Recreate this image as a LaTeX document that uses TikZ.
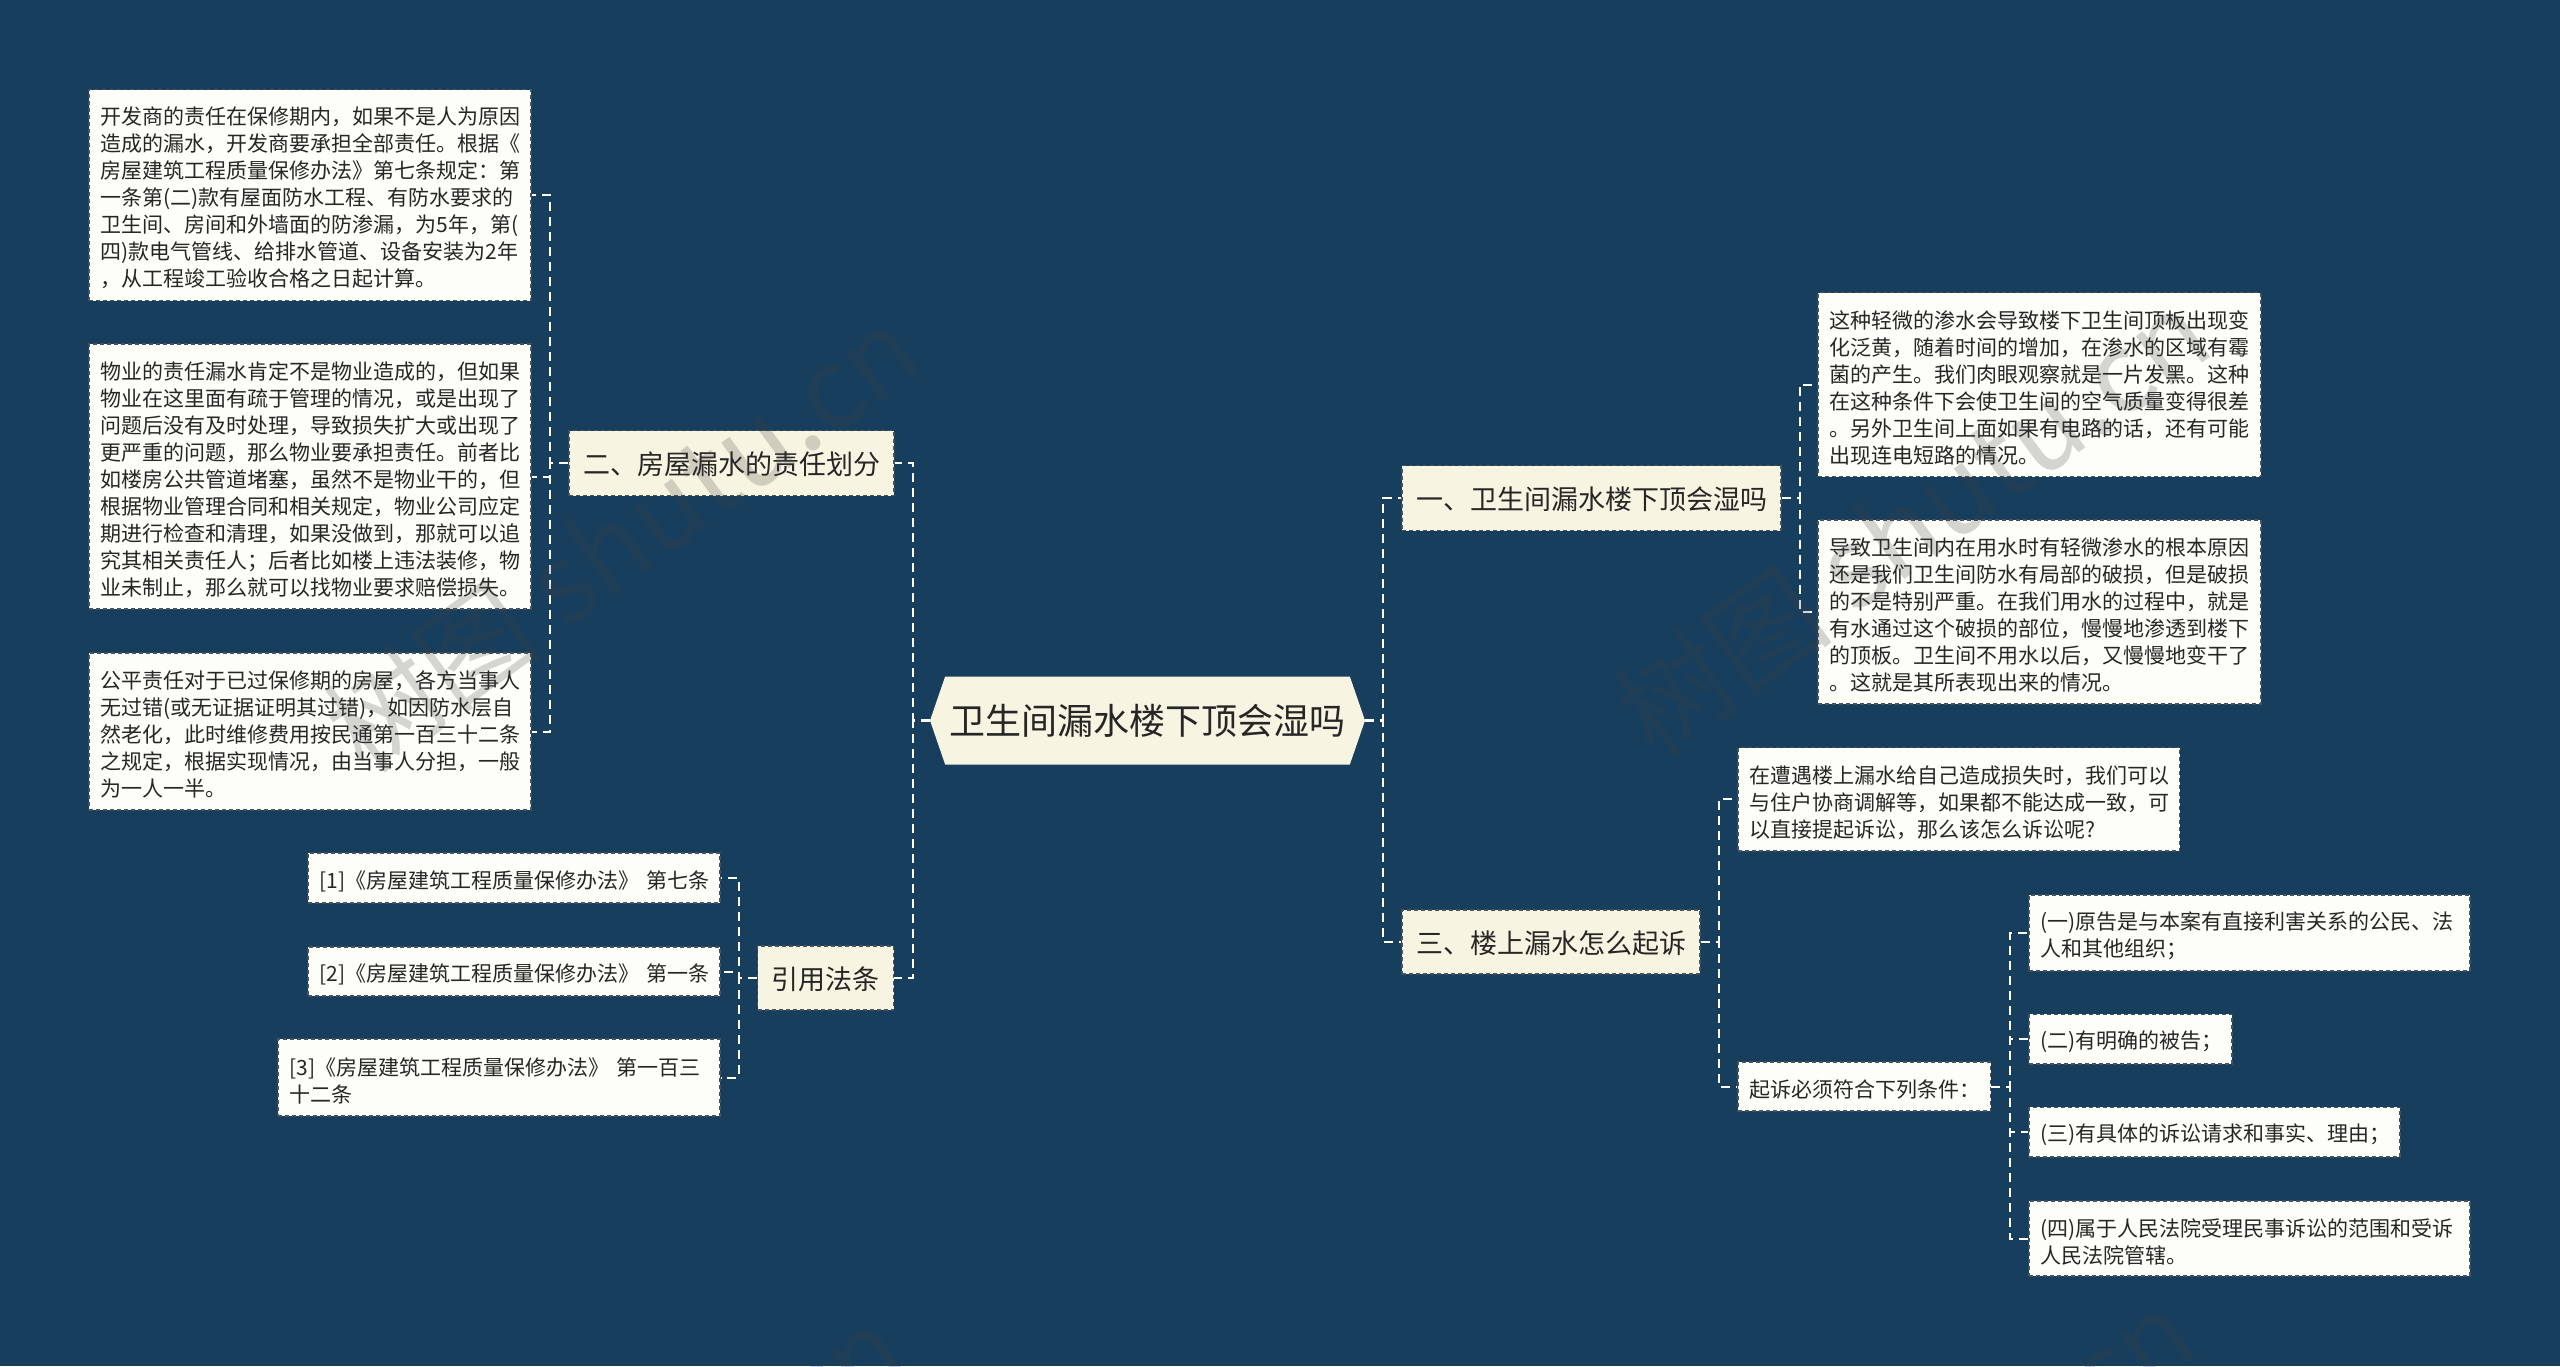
\documentclass[tikz,border=0pt]{standalone}
\usepackage{fontspec}
\setmainfont{Noto Sans CJK SC}
\usetikzlibrary{shapes.symbols}
\definecolor{bgblue}{HTML}{173E5D}
\definecolor{mainfill}{HTML}{F8F4E2}
\definecolor{leaffill}{HTML}{FEFEF8}
\definecolor{inkgray}{HTML}{262626}
\definecolor{rimgray}{HTML}{46525C}
\definecolor{markgray}{HTML}{444444}
\tikzset{
  RootStyle/.style = { signal, signal to = east and west, signal pointer angle = 142,
                       fill = mainfill, text = inkgray, inner sep = 0pt,
                       font = \fontsize{36}{44}\selectfont },
  MainStyle/.style = { rectangle, fill = mainfill, draw = rimgray, line width = 1.5pt,
                       dash pattern = on 4pt off 3pt, text = inkgray, inner sep = 0pt,
                       text height = 24pt, text depth = 0.4pt,
                       font = \fontsize{27}{33}\selectfont },
  LeafStyle/.style = { rectangle, fill = leaffill, draw = rimgray, line width = 1.5pt,
                       dash pattern = on 4pt off 3pt, text = inkgray, align = left,
                       inner xsep = 11.5pt, inner ysep = 0pt, text height = 24pt,
                       font = \fontsize{21}{27}\selectfont },
  MarkStyle/.style = { text = markgray, opacity = 0.22, rotate = 36, inner sep = 0pt,
                       font = \fontsize{111}{111}\selectfont },
  EdgeStyle/.style = { white, line width = 2.5pt, dash pattern = on 9pt off 6pt } }
\def\EdgeW(#1)(#2)(#3){\draw[EdgeStyle] (#1.west) -- (#1.west -| #2) |- (#3.east);}
\def\EdgeE(#1)(#2)(#3){\draw[EdgeStyle] (#1.east) -- (#1.east -| #2) |- (#3.west);}

\begin{document}
\begin{tikzpicture}[x=1pt,y=-1pt]
  \useasboundingbox (0,0) rectangle (2560,1366);
  \fill[bgblue] (0,0) rectangle (2560,1366);

  \node[RootStyle, minimum width=435pt, minimum height=88pt] (root) at (1147.5,720.5) {卫生间漏水楼下顶会湿吗};

  \node[MainStyle, minimum width=325pt, minimum height=65pt] (n2) at (731.5,463) {二、房屋漏水的责任划分};
  \node[MainStyle, minimum width=136pt, minimum height=64pt] (n4) at (825.5,978) {引用法条};
  \node[MainStyle, minimum width=379pt, minimum height=65pt] (n1) at (1591.5,498) {一、卫生间漏水楼下顶会湿吗};
  \node[MainStyle, minimum width=298pt, minimum height=64pt] (n3) at (1551,942) {三、楼上漏水怎么起诉};

  \node[LeafStyle, text width=419pt, minimum height=211pt] (b1) at (310,195) {开发商的责任在保修期内，如果不是人为原因\\造成的漏水，开发商要承担全部责任。根据《\\房屋建筑工程质量保修办法》第七条规定：第\\一条第(二)款有屋面防水工程、有防水要求的\\卫生间、房间和外墙面的防渗漏，为5年，第(\\四)款电气管线、给排水管道、设备安装为2年\\，从工程竣工验收合格之日起计算。};
  \node[LeafStyle, text width=419pt, minimum height=265pt] (b2) at (310,476.5) {物业的责任漏水肯定不是物业造成的，但如果\\物业在这里面有疏于管理的情况，或是出现了\\问题后没有及时处理，导致损失扩大或出现了\\更严重的问题，那么物业要承担责任。前者比\\如楼房公共管道堵塞，虽然不是物业干的，但\\根据物业管理合同和相关规定，物业公司应定\\期进行检查和清理，如果没做到，那就可以追\\究其相关责任人；后者比如楼上违法装修，物\\业未制止，那么就可以找物业要求赔偿损失。};
  \node[LeafStyle, text width=419pt, minimum height=157pt] (b3) at (310,731.5) {公平责任对于已过保修期的房屋，各方当事人\\无过错(或无证据证明其过错)，如因防水层自\\然老化，此时维修费用按民通第一百三十二条\\之规定，根据实现情况，由当事人分担，一般\\为一人一半。};

  \node[LeafStyle, text width=389pt, minimum height=50pt] (r1) at (514,878) {\mbox{[1]《房屋建筑工程质量保修办法》 第七条}};
  \node[LeafStyle, text width=389pt, minimum height=49pt] (r2) at (514,971.5) {\mbox{[2]《房屋建筑工程质量保修办法》 第一条}};
  \node[LeafStyle, text width=419pt, minimum height=77pt] (r3) at (499,1077.5) {\mbox{[3]《房屋建筑工程质量保修办法》 第一百三}\\十二条};

  \node[LeafStyle, text width=420pt, minimum height=184pt] (a1) at (2039.5,384.7) {这种轻微的渗水会导致楼下卫生间顶板出现变\\化泛黄，随着时间的增加，在渗水的区域有霉\\菌的产生。我们肉眼观察就是一片发黑。这种\\在这种条件下会使卫生间的空气质量变得很差\\。另外卫生间上面如果有电路的话，还有可能\\出现连电短路的情况。};
  \node[LeafStyle, text width=420pt, minimum height=184pt] (a2) at (2039.5,612) {导致卫生间内在用水时有轻微渗水的根本原因\\还是我们卫生间防水有局部的破损，但是破损\\的不是特别严重。在我们用水的过程中，就是\\有水通过这个破损的部位，慢慢地渗透到楼下\\的顶板。卫生间不用水以后，又慢慢地变干了\\。这就是其所表现出来的情况。};

  \node[LeafStyle, text width=418.5pt, minimum height=103.5pt] (c1) at (1958.75,799.3) {在遭遇楼上漏水给自己造成损失时，我们可以\\与住户协商调解等，如果都不能达成一致，可\\以直接提起诉讼，那么该怎么诉讼呢?};
  \node[LeafStyle, text width=229.5pt, minimum height=49pt] (c2) at (1864.3,1086.5) {起诉必须符合下列条件：};

  \node[LeafStyle, text width=418pt, minimum height=76pt] (d1) at (2249.5,933) {(一)原告是与本案有直接利害关系的公民、法\\人和其他组织；};
  \node[LeafStyle, text width=180pt, minimum height=49.5pt] (d2) at (2130.5,1039) {(二)有明确的被告；};
  \node[LeafStyle, text width=348pt, minimum height=49.5pt] (d3) at (2214.5,1132) {(三)有具体的诉讼请求和事实、理由；};
  \node[LeafStyle, text width=418pt, minimum height=75pt] (d4) at (2249.5,1238.5) {(四)属于人民法院受理民事诉讼的范围和受诉\\人民法院管辖。};

  \coordinate (s1) at (913,720);
  \coordinate (s2) at (1383,720);
  \coordinate (s3) at (550,463);
  \coordinate (s4) at (739,978);
  \coordinate (s5) at (1800,498);
  \coordinate (s6) at (1719,942);
  \coordinate (s7) at (2010,1086);

  \EdgeW(root)(s1)(n2)
  \EdgeW(root)(s1)(n4)
  \EdgeE(root)(s2)(n1)
  \EdgeE(root)(s2)(n3)

  \tikzset{
  EdgeStyle/.append style = {line width = 2pt} }
  \EdgeW(n2)(s3)(b1)
  \EdgeW(n2)(s3)(b2)
  \EdgeW(n2)(s3)(b3)

  \EdgeW(n4)(s4)(r1)
  \EdgeW(n4)(s4)(r2)
  \EdgeW(n4)(s4)(r3)

  \EdgeE(n1)(s5)(a1)
  \EdgeE(n1)(s5)(a2)

  \EdgeE(n3)(s6)(c1)
  \EdgeE(n3)(s6)(c2)

  \EdgeE(c2)(s7)(d1)
  \EdgeE(c2)(s7)(d2)
  \EdgeE(c2)(s7)(d3)
  \EdgeE(c2)(s7)(d4)

  \node[MarkStyle] (m1) at (622,538) {树图 shutu.cn};
  \node[MarkStyle] (m2) at (1912,522) {树图 shutu.cn};
  \node[MarkStyle] (m3) at (607,1538) {树图 shutu.cn};
  \node[MarkStyle] (m4) at (1897,1522) {树图 shutu.cn};
\end{tikzpicture}
\end{document}
